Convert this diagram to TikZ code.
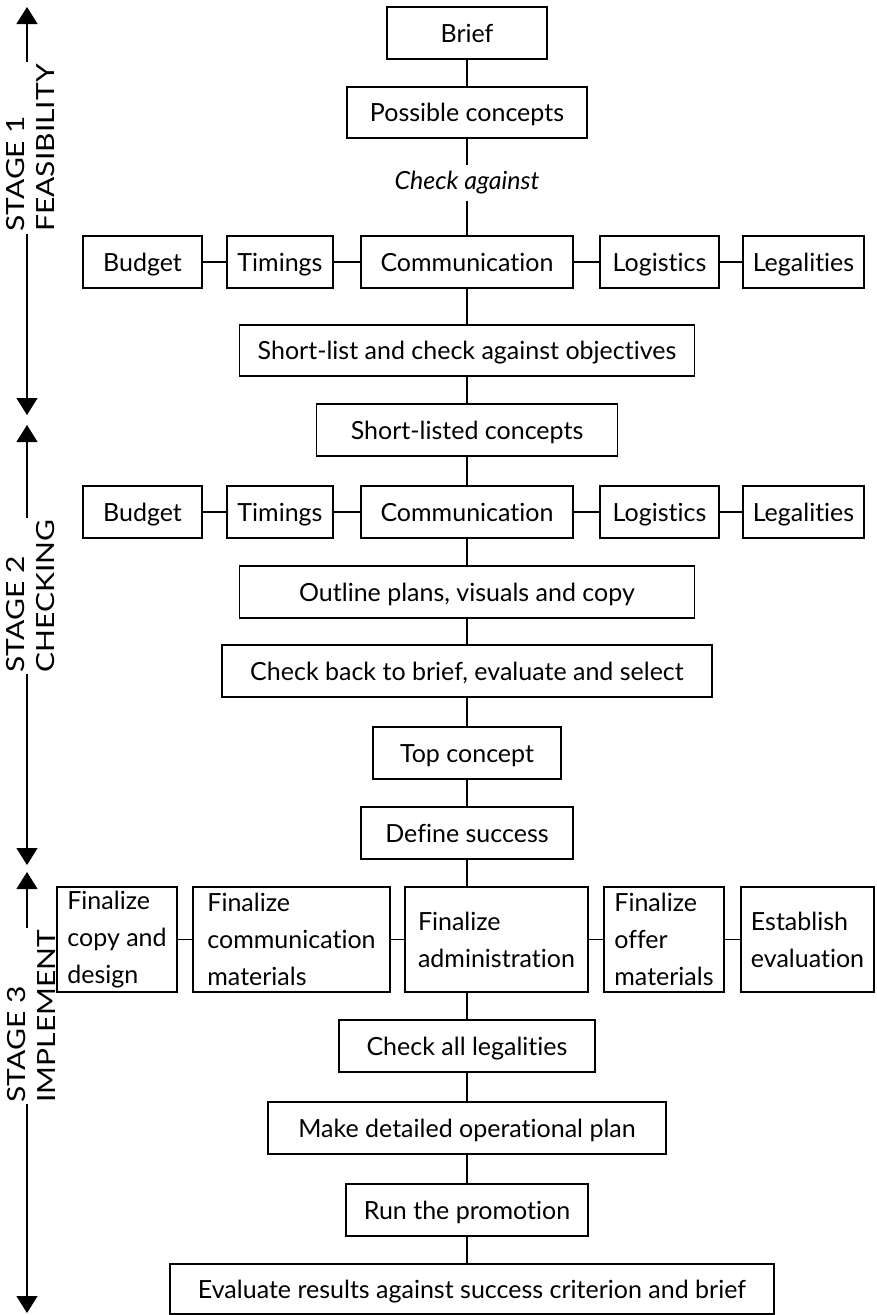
\documentclass[tikz,border=0pt]{standalone}
\usepackage{fontspec}
\setmainfont{Lato}[RawFeature={-liga;-clig;-dlig}]
\newfontfamily\stagefont{Lato}[FakeStretch=1.2, RawFeature={-liga;-clig;-dlig}]
\usetikzlibrary{arrows.meta}
\begin{document}
\begin{tikzpicture}[x=1pt,y=-1pt,
  box/.style={draw, line width=1.3pt, minimum height=52pt, inner sep=0pt,
    text height=18pt, text depth=0pt, font=\fontsize{25}{30}\selectfont},
  tallbox/.style={draw, line width=1.3pt, minimum height=105pt, inner xsep=10pt,
    inner ysep=0pt, align=left, font=\fontsize{25}{37}\selectfont},
  link/.style={line width=1.2pt},
  stagearrow/.style={line width=1.2pt,
    {Triangle[width=21pt,length=17pt]}-{Triangle[width=21pt,length=17pt]}},
  stagelabel/.style={fill=white, rotate=90, align=left, inner xsep=2pt, inner ysep=0pt,
    font=\stagefont\fontsize{25}{30}\selectfont}]
\useasboundingbox (0,0) rectangle (876,1315);

% ---- stage arrows along the left margin
\coordinate (s1a) at (27,7);
\coordinate (s1b) at (27,415);
\coordinate (s2a) at (27,425);
\coordinate (s2b) at (27,865);
\coordinate (s3a) at (27,872);
\coordinate (s3b) at (27,1313);
\draw[stagearrow] (s1a) -- (s1b);
\draw[stagearrow] (s2a) -- (s2b);
\draw[stagearrow] (s3a) -- (s3b);
\node[stagelabel] (st1) at (31,148) {STAGE 1\\FEASIBILITY};
\node[stagelabel] (st2) at (31,596) {STAGE 2\\CHECKING};
\node[stagelabel] (st3) at (31,1016) {STAGE 3\\IMPLEMENT};

% ---- stage 1
\node[box, minimum width=160pt] (brief) at (467,33) {Brief};
\node[box, minimum width=240pt, minimum height=51pt] (possible) at (467,112.5) {Possible concepts};
\node[inner xsep=2pt, inner ysep=6pt, font=\fontsize{25}{30}\selectfont\itshape] (chk) at (467,183) {Check against};

\node[box, minimum width=119pt] (bud1) at (142.5,262) {Budget};
\node[box, minimum width=106pt] (tim1) at (280,262) {Timings};
\node[box, minimum width=212pt] (com1) at (467,262) {Communication};
\node[box, minimum width=119pt] (log1) at (659.5,262) {Logistics};
\node[box, minimum width=121pt] (leg1) at (803.5,262) {Legalities};

\node[box, minimum width=455pt, minimum height=51pt] (short) at (467,350.5) {Short-list and check against objectives};

% ---- stage 2
\node[box, minimum width=301pt] (listed) at (467,430) {Short-listed concepts};

\node[box, minimum width=119pt] (bud2) at (142.5,512) {Budget};
\node[box, minimum width=106pt] (tim2) at (280,512) {Timings};
\node[box, minimum width=212pt] (com2) at (467,512) {Communication};
\node[box, minimum width=119pt] (log2) at (659.5,512) {Logistics};
\node[box, minimum width=121pt] (leg2) at (803.5,512) {Legalities};

\node[box, minimum width=455pt] (outline) at (467,592) {Outline plans, visuals and copy};
\node[box, minimum width=490pt] (back) at (467,671) {Check back to brief, evaluate and select};
\node[box, minimum width=188pt] (top) at (467,753) {Top concept};
\node[box, minimum width=212pt] (define) at (467,833) {Define success};

% ---- stage 3
\node[tallbox, minimum width=120pt] (fin1) at (117,939.5) {Finalize\\copy and\\design};
\node[tallbox, minimum width=197pt] (fin2) at (291.5,939.5) {Finalize\\communication\\materials};
\node[tallbox, minimum width=183pt] (fin3) at (496.5,939.5) {Finalize\\administration};
\node[tallbox, minimum width=120pt] (fin4) at (664,939.5) {Finalize\\offer\\materials};
\node[tallbox, minimum width=133pt] (fin5) at (807.5,939.5) {Establish\\evaluation};

\node[box, minimum width=256pt] (legal) at (467,1046) {Check all legalities};
\node[box, minimum width=398pt] (plan) at (467,1128) {Make detailed operational plan};
\node[box, minimum width=242pt] (run) at (467,1210) {Run the promotion};
\node[box, minimum width=604pt, minimum height=50pt] (eval) at (472,1289) {Evaluate results against success criterion and brief};

% ---- connectors
\draw[link] (brief) -- (possible);
\draw[link] (possible) -- (chk);
\draw[link] (chk) -- (com1);
\draw[link] (bud1) -- (tim1);
\draw[link] (tim1) -- (com1);
\draw[link] (com1) -- (log1);
\draw[link] (log1) -- (leg1);
\draw[link] (com1) -- (short);
\draw[link] (short) -- (listed);
\draw[link] (listed) -- (com2);
\draw[link] (bud2) -- (tim2);
\draw[link] (tim2) -- (com2);
\draw[link] (com2) -- (log2);
\draw[link] (log2) -- (leg2);
\draw[link] (com2) -- (outline);
\draw[link] (outline) -- (back);
\draw[link] (back) -- (top);
\draw[link] (top) -- (define);
\draw[link] (define.south) -- (define.south |- fin3.north);
\draw[link] (fin1) -- (fin2);
\draw[link] (fin2) -- (fin3);
\draw[link] (fin3) -- (fin4);
\draw[link] (fin4) -- (fin5);
\draw[link] (fin3.south -| define.south) -- (legal.north);
\draw[link] (legal) -- (plan);
\draw[link] (plan) -- (run);
\draw[link] (run.south) -- (run.south |- eval.north);
\end{tikzpicture}
\end{document}
